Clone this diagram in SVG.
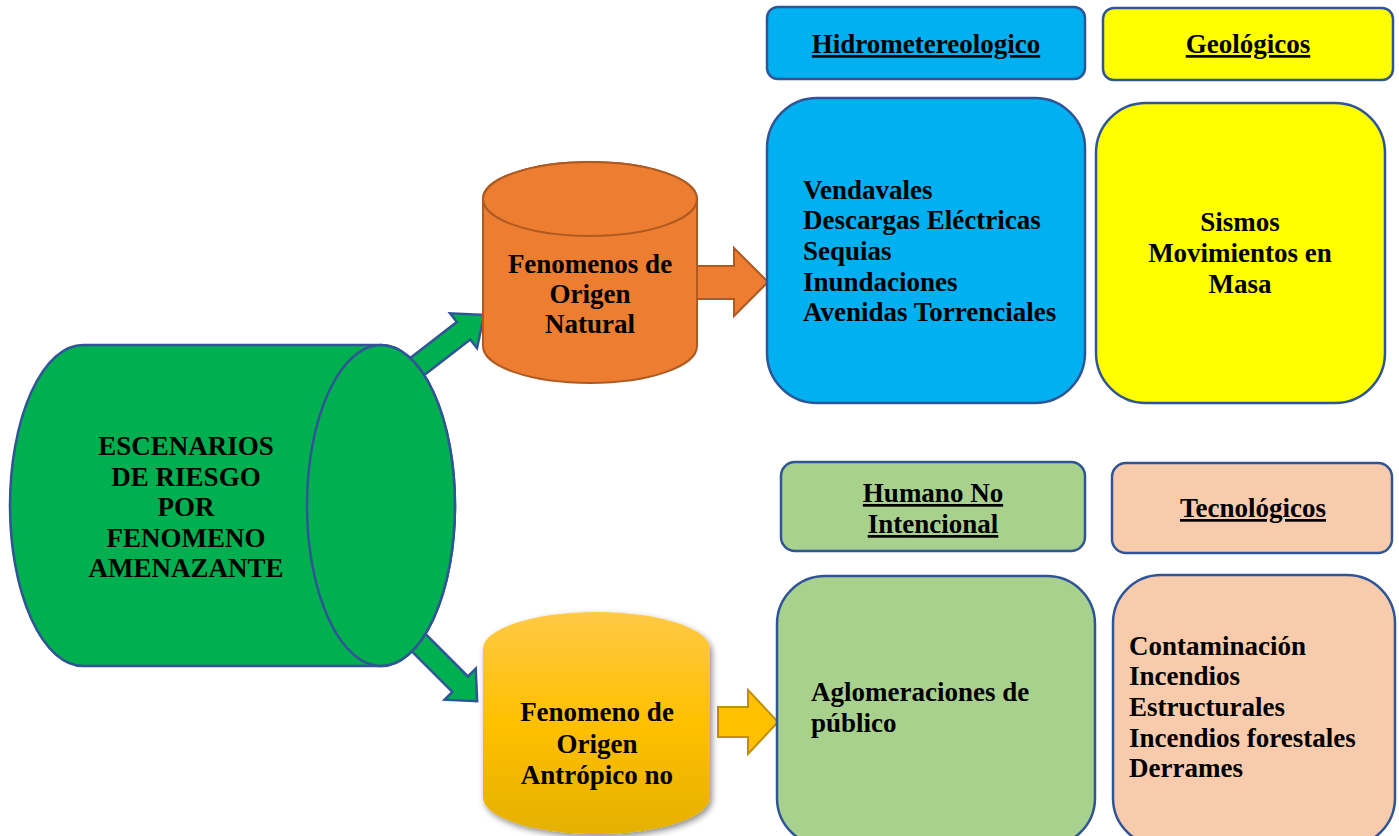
<svg xmlns="http://www.w3.org/2000/svg" width="1399" height="836" viewBox="0 0 1399 836">
<style>
.t{font-family:"Liberation Serif","Times New Roman",serif;font-weight:bold;font-size:27px;fill:#000}
.c{text-anchor:middle}
.u{text-decoration:underline}
.box{stroke:#2F5597;stroke-width:2.5}
.garrow{fill:#00B050;stroke:#2F5597;stroke-width:2.5}
</style>
<defs>
<linearGradient id="yg" x1="0" y1="0" x2="0" y2="1">
<stop offset="0" stop-color="#FFC946"/>
<stop offset="0.5" stop-color="#FFC000"/>
<stop offset="1" stop-color="#E5B000"/>
</linearGradient>
<filter id="sh" x="-10%" y="-10%" width="125%" height="125%">
<feDropShadow dx="2" dy="3" stdDeviation="3" flood-color="#000" flood-opacity="0.45"/>
</filter>
</defs>
<rect width="1399" height="836" fill="#fff"/>
<g id="connectors">
<path class="garrow" transform="translate(405,376) rotate(-37.7)" d="M0,-11 L74,-11 L74,-22 L100,0 L74,22 L74,11 L0,11 Z"/>
<path class="garrow" transform="translate(405,629) rotate(45)" d="M0,-11 L78,-11 L78,-22 L102,0 L78,22 L78,11 L0,11 Z"/>
<path fill="#ED7D31" stroke="#AE5A21" stroke-width="2" d="M697,266 L734,266 L734,248 L768,282 L734,316 L734,299 L697,299 Z"/>
<path fill="#FFC000" stroke="#BF9000" stroke-width="2" d="M718,707 L748,707 L748,690 L778,722 L748,754 L748,737 L718,737 Z"/>
</g>
<g id="escenarios">
<path fill="#00B050" stroke="#2F5597" stroke-width="2.5" d="M83,345 L381,345 A74,160.5 0 0 1 381,666 L83,666 A73,160.5 0 0 1 83,345 Z"/>
<ellipse cx="381" cy="505.5" rx="74" ry="160.5" fill="#00B050" stroke="#2F5597" stroke-width="2.5"/>
<text class="t c" x="186" y="455">ESCENARIOS</text>
<text class="t c" x="186" y="486">DE RIESGO</text>
<text class="t c" x="186" y="516">POR</text>
<text class="t c" x="186" y="547">FENOMENO</text>
<text class="t c" x="186" y="577">AMENAZANTE</text>
</g>
<g id="natural">
<path fill="#ED7D31" stroke="#AE5A21" stroke-width="2" d="M483,199 L483,346 A107,37 0 0 0 697,346 L697,199 A107,37 0 0 0 483,199 Z"/>
<ellipse cx="590" cy="199" rx="107" ry="37" fill="#ED7D31" stroke="#AE5A21" stroke-width="2"/>
<text class="t c" x="590" y="273">Fenomenos de</text>
<text class="t c" x="590" y="303">Origen</text>
<text class="t c" x="590" y="333">Natural</text>
</g>
<g id="antropico">
<path fill="url(#yg)" filter="url(#sh)" d="M483,649 L483,797 A113.5,37 0 0 0 710,797 L710,649 A113.5,37 0 0 0 483,649 Z"/>
<text class="t c" x="597" y="721">Fenomeno de</text>
<text class="t c" x="597" y="753">Origen</text>
<text class="t c" x="597" y="784">Antrópico no</text>
</g>
<g id="hidro-header">
<rect class="box" x="767" y="7" width="318" height="72" rx="11" fill="#00B0F0"/>
<text class="t c u" x="926" y="53">Hidrometereologico</text>
</g>
<g id="geo-header">
<rect class="box" x="1103" y="8" width="290" height="72" rx="11" fill="#FFFF00"/>
<text class="t c u" x="1248" y="53">Geológicos</text>
</g>
<g id="hidro-list">
<rect class="box" x="767" y="98" width="318" height="305" rx="50" fill="#00B0F0"/>
<text class="t" x="803" y="199">Vendavales</text>
<text class="t" x="803" y="229">Descargas Eléctricas</text>
<text class="t" x="803" y="260">Sequias</text>
<text class="t" x="803" y="291">Inundaciones</text>
<text class="t" x="803" y="321">Avenidas Torrenciales</text>
</g>
<g id="geo-list">
<rect class="box" x="1096" y="103" width="289" height="300" rx="50" fill="#FFFF00"/>
<text class="t c" x="1240" y="231">Sismos</text>
<text class="t c" x="1240" y="262">Movimientos en</text>
<text class="t c" x="1240" y="293">Masa</text>
</g>
<g id="humano-header">
<rect class="box" x="781" y="462" width="304" height="89" rx="14" fill="#A9D18E"/>
<text class="t c u" x="933" y="502">Humano No</text>
<text class="t c u" x="933" y="533">Intencional</text>
</g>
<g id="tec-header">
<rect class="box" x="1112" y="463" width="280" height="90" rx="14" fill="#F8CBAD"/>
<text class="t c u" x="1253" y="517">Tecnológicos</text>
</g>
<g id="humano-list">
<rect class="box" x="777" y="576" width="318" height="270" rx="48" fill="#A9D18E"/>
<text class="t" x="811" y="701">Aglomeraciones de</text>
<text class="t" x="811" y="732">público</text>
</g>
<g id="tec-list">
<rect class="box" x="1113" y="575" width="282" height="271" rx="48" fill="#F8CBAD"/>
<text class="t" x="1129" y="655">Contaminación</text>
<text class="t" x="1129" y="685">Incendios</text>
<text class="t" x="1129" y="716">Estructurales</text>
<text class="t" x="1129" y="747">Incendios forestales</text>
<text class="t" x="1129" y="777">Derrames</text>
</g>
</svg>
